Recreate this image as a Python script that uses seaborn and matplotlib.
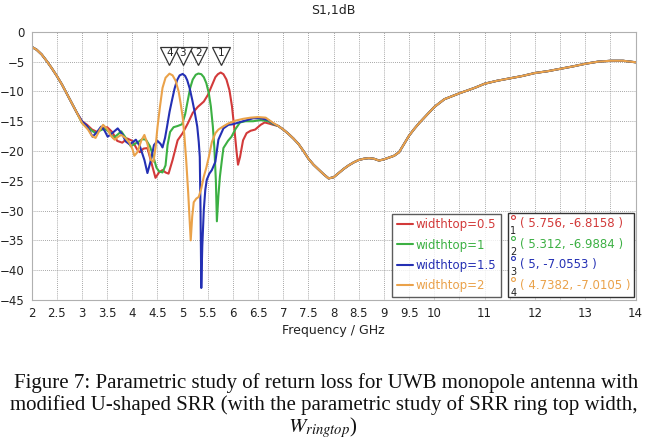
import numpy as np
import pandas as pd
import matplotlib
matplotlib.use("Agg")
import matplotlib.pyplot as plt
from matplotlib.lines import Line2D
from matplotlib.patches import Rectangle
import seaborn as sns

# ---------------- data ----------------
labels = ["widthtop=0.5", "widthtop=1", "widthtop=1.5", "widthtop=2"]
colors = ["#d23a3a", "#3cb043", "#2430b4", "#eaa24a"]

f_low = [2.0, 2.1, 2.2, 2.3, 2.4, 2.5, 2.6, 2.7, 2.8, 2.9]
db_low = [-2.5, -3.0, -3.8, -4.9, -6.1, -7.4, -8.8, -10.4, -12.0, -13.6]

f_high = [6.9, 7.0, 7.1, 7.2, 7.3, 7.4, 7.5, 7.6, 7.7, 7.8, 7.9, 8.0, 8.1, 8.2, 8.3, 8.4,
          8.5, 8.6, 8.7, 8.8, 8.9, 9.0, 9.1, 9.2, 9.3, 9.4, 9.5, 9.6, 9.7, 9.8, 9.9, 10.0,
          10.2, 10.5, 10.8, 11.0, 11.25, 11.5, 11.75, 12.0, 12.25, 12.5, 12.75, 13.0,
          13.25, 13.5, 13.75, 14.0]
db_high = [-15.8, -16.4, -17.1, -17.9, -18.8, -20.0, -21.3, -22.3, -23.1, -23.9, -24.6,
           -24.4, -23.7, -23.0, -22.4, -21.9, -21.5, -21.3, -21.2, -21.3, -21.6, -21.4,
           -21.1, -20.8, -20.2, -18.8, -17.4, -16.3, -15.3, -14.4, -13.5, -12.6,
           -11.3, -10.3, -9.4, -8.7, -8.2, -7.8, -7.4, -6.9, -6.6, -6.2, -5.8, -5.35,
           -5.0, -4.85, -4.85, -5.1]

f_w05 = [3.0, 3.1, 3.2, 3.3, 3.4, 3.5, 3.6, 3.7, 3.8, 3.9, 4.0, 4.1, 4.15, 4.22, 4.3,
         4.38, 4.46, 4.53, 4.6, 4.66, 4.72, 4.8, 4.9, 5.0, 5.1, 5.2, 5.3, 5.42, 5.5,
         5.58, 5.65, 5.7, 5.756, 5.81, 5.87, 5.93, 5.98, 6.03, 6.07, 6.1, 6.14, 6.2,
         6.27, 6.35, 6.44, 6.55, 6.63, 6.72, 6.8]
db_w05 = [-15.0, -15.6, -16.4, -16.8, -16.2, -16.0, -16.8, -18.3, -18.6, -17.9, -18.3,
          -19.8, -20.2, -19.6, -19.5, -22.0, -24.5, -23.6, -23.2, -23.6, -23.8, -21.5,
          -18.2, -17.0, -15.4, -13.6, -12.6, -11.7, -10.6, -9.0, -7.6, -7.1, -6.82,
          -7.1, -8.0, -9.8, -12.5, -16.5, -20.0, -22.3, -21.0, -18.2, -17.0, -16.6,
          -16.4, -15.6, -15.2, -15.4, -15.6]

f_w1 = [3.0, 3.1, 3.2, 3.27, 3.35, 3.45, 3.55, 3.62, 3.7, 3.78, 3.87, 3.97, 4.05, 4.13,
        4.2, 4.27, 4.35, 4.42, 4.48, 4.53, 4.6, 4.66, 4.7, 4.75, 4.82, 4.9, 4.99, 5.05,
        5.1, 5.15, 5.2, 5.26, 5.312, 5.37, 5.42, 5.47, 5.52, 5.56, 5.6, 5.63, 5.66,
        5.68, 5.71, 5.74, 5.78, 5.81, 5.9, 5.97, 6.05, 6.14, 6.25, 6.4, 6.55, 6.7, 6.8]
db_w1 = [-15.3, -15.9, -16.6, -17.0, -16.6, -16.2, -16.9, -17.8, -17.3, -16.7, -17.8,
         -19.2, -18.8, -18.4, -18.0, -18.1, -19.2, -21.0, -22.8, -23.4, -23.6, -22.4,
         -19.0, -16.8, -16.0, -15.8, -15.5, -13.8, -11.6, -9.4, -8.0, -7.2, -6.99,
         -7.1, -7.6, -8.6, -10.3, -12.5, -15.9, -19.5, -25.0, -31.8, -27.5, -24.3,
         -21.5, -19.5, -18.3, -17.6, -16.3, -15.2, -15.0, -15.0, -14.8, -15.0, -15.5]

f_w15 = [3.0, 3.1, 3.21, 3.3, 3.38, 3.45, 3.51, 3.6, 3.71, 3.8, 3.87, 3.95, 4.07, 4.15,
         4.24, 4.3, 4.37, 4.43, 4.5, 4.56, 4.6, 4.65, 4.69, 4.74, 4.79, 4.84, 4.89,
         4.94, 5.0, 5.05, 5.09, 5.14, 5.19, 5.24, 5.29, 5.32, 5.34, 5.355, 5.37, 5.39,
         5.42, 5.45, 5.48, 5.53, 5.58, 5.65, 5.71, 5.81, 5.91, 6.0, 6.2, 6.4, 6.55,
         6.7, 6.8]
db_w15 = [-15.0, -15.8, -17.6, -16.8, -15.9, -16.6, -17.6, -17.0, -16.2, -17.2, -18.4,
          -18.9, -18.1, -19.2, -21.5, -23.7, -21.5, -19.0, -18.3, -18.8, -19.4, -17.8,
          -15.9, -13.4, -11.4, -9.5, -8.1, -7.3, -7.06, -7.4, -8.1, -9.5, -11.4, -13.5,
          -15.9, -18.5, -21.0, -30.0, -43.0, -36.0, -29.9, -26.5, -24.8, -23.8, -23.2,
          -21.8, -18.1, -16.2, -15.6, -15.5, -15.0, -14.5, -14.5, -14.8, -15.4]

f_w2 = [3.0, 3.12, 3.2, 3.27, 3.35, 3.42, 3.5, 3.58, 3.65, 3.72, 3.78, 3.86, 3.94, 4.0,
        4.04, 4.1, 4.18, 4.24, 4.3, 4.37, 4.42, 4.46, 4.5, 4.55, 4.6, 4.66, 4.7382,
        4.8, 4.86, 4.92, 4.96, 5.0, 5.03, 5.07, 5.11, 5.16, 5.19, 5.22, 5.27, 5.32,
        5.37, 5.42, 5.47, 5.52, 5.58, 5.65, 5.71, 5.8, 5.9, 6.05, 6.2, 6.35, 6.5,
        6.65, 6.8]
db_w2 = [-15.3, -16.4, -17.5, -17.8, -16.5, -15.6, -16.3, -17.5, -18.1, -17.6, -17.3,
         -17.8, -18.6, -19.6, -20.8, -20.2, -18.2, -17.3, -18.8, -21.5, -21.8, -19.5,
         -16.0, -12.5, -9.4, -7.7, -7.01, -7.3, -8.2, -10.0, -12.0, -14.3, -17.0,
         -21.5, -27.0, -35.0, -31.0, -28.6, -28.0, -27.7, -26.3, -24.3, -22.8, -21.0,
         -18.5, -17.0, -16.4, -15.9, -15.4, -14.9, -14.6, -14.4, -14.3, -14.4, -15.3]

marker_ids = ["1", "2", "3", "4"]
marker_f = [5.756, 5.312, 5.0, 4.7382]
marker_db = [-6.8158, -6.9884, -7.0553, -7.0105]
marker_txt = ["( 5.756, -6.8158 )", "( 5.312, -6.9884 )", "( 5, -7.0553 )", "( 4.7382, -7.0105 )"]

xtick_vals = [2, 2.5, 3, 3.5, 4, 4.5, 5, 5.5, 6, 6.5, 7, 7.5, 8, 8.5, 9, 9.5, 10, 11, 12, 13, 14]
xtick_labels = ["2", "2.5", "3", "3.5", "4", "4.5", "5", "5.5", "6", "6.5", "7", "7.5",
                "8", "8.5", "9", "9.5", "10", "11", "12", "13", "14"]
xminor_vals = [10.5, 11.5, 12.5, 13.5]
ytick_vals = [0, -5, -10, -15, -20, -25, -30, -35, -40, -45]

# ---------------- build table ----------------
mids = [(f_w05, db_w05), (f_w1, db_w1), (f_w15, db_w15), (f_w2, db_w2)]
rows = []
for lab, (fm, dm) in zip(labels, mids):
    ff = list(f_low) + list(fm) + list(f_high)
    dd = list(db_low) + list(dm) + list(db_high)
    for a, b in zip(ff, dd):
        rows.append({"freq": a, "dB": b, "series": lab})
df = pd.DataFrame(rows)

# ---------------- plot ----------------
sns.set_theme(style="white")
plt.rcParams["font.family"] = ["DejaVu Sans"]
plt.rcParams["mathtext.fontset"] = "stix"

fig = plt.figure(figsize=(6.46, 4.43), dpi=100)
ax = fig.add_axes([0.049, 0.323, 0.935, 0.605])

sns.lineplot(data=df, x="freq", y="dB", hue="series", hue_order=labels,
             palette=colors, estimator=None, sort=False, lw=1.5, ax=ax, legend=False)

ax.set_xlim(2, 14)
ax.set_ylim(-45, 0)
ax.set_xticks(xtick_vals)
ax.set_xticklabels(xtick_labels)
ax.set_xticks(xminor_vals, minor=True)
ax.set_yticks(ytick_vals)
ax.tick_params(axis="both", which="both", labelsize=8.5, length=3, color="#555555",
               pad=2, direction="out", labelcolor="#222222")
ax.tick_params(axis="x", which="minor", length=3)
ax.grid(True, which="both", linestyle=(0, (1, 1.5)), color="#8a8a8a", lw=0.6)
for s in ax.spines.values():
    s.set_color("#b0b0b0")
    s.set_linewidth(0.8)

ax.set_title("S1,1dB", fontsize=9, color="#222222", pad=13)
ax.set_xlabel("Frequency / GHz", fontsize=9, color="#222222", labelpad=3)
ax.set_ylabel("")

# marker tags
for mid, mf in zip(marker_ids, marker_f):
    ax.plot([mf], [-4.1], marker="v", ms=13, mfc="white", mec="#333333", mew=0.9,
            zorder=6, clip_on=False)
    ax.text(mf, -3.5, mid, ha="center", va="center", fontsize=7.5, color="#222222", zorder=7)

# legend box
handles = [Line2D([0], [0], color=c, lw=1.5) for c in colors]
leg = ax.legend(handles, labels, loc="lower left", bbox_to_anchor=(0.597, 0.011),
                fontsize=8.5, labelcolor=colors, frameon=True, fancybox=False,
                handlelength=1.4, handletextpad=0.2, borderpad=0.4,
                labelspacing=0.62, borderaxespad=0)
leg.get_frame().set_edgecolor("#333333")
leg.get_frame().set_linewidth(1.0)

# marker value box
bx0, bx1, by0, by1 = 0.788, 0.998, 0.011, 0.325
ax.add_patch(Rectangle((bx0, by0), bx1 - bx0, by1 - by0, transform=ax.transAxes,
                       facecolor="white", edgecolor="#333333", lw=1.0, zorder=8))
row_y = [0.286, 0.208, 0.133, 0.055]
for mid, txt, c, yy in zip(marker_ids, marker_txt, colors, row_y):
    ax.plot([bx0 + 0.009], [yy + 0.022], marker="o", ms=2.8, mfc="white", mec=c, mew=0.8,
            transform=ax.transAxes, zorder=9, clip_on=False)
    ax.text(bx0 + 0.0045, yy - 0.028, mid, color="#222222", fontsize=7, ha="left",
            va="center", transform=ax.transAxes, zorder=9)
    ax.text(bx0 + 0.02, yy, txt, color=c, fontsize=8.5, ha="left", va="center",
            transform=ax.transAxes, zorder=9)

# caption
cap_kw = dict(ha="center", va="center", fontsize=15, family=["Liberation Serif"],
              color="#111111")
fig.text(0.505, 1 - 383 / 443,
         "Figure 7: Parametric study of return loss for UWB monopole antenna with", **cap_kw)
fig.text(0.502, 1 - 405 / 443,
         "modified U-shaped SRR (with the parametric study of SRR ring top width,", **cap_kw)
fig.text(0.5, 1 - 428 / 443, r"$W_{ringtop}$)", **cap_kw)

fig.savefig("out.png", dpi=100)
